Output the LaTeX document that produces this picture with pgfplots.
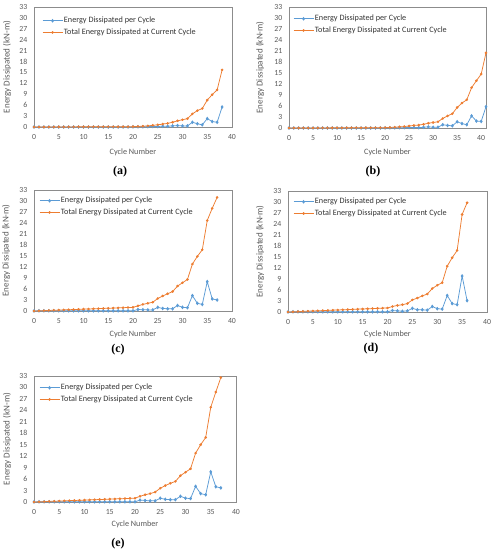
\documentclass[border=0pt]{standalone}
\usepackage{pgfplots}
\usepackage{pgfplotstable}
\pgfplotsset{compat=1.18}
\usepackage{fontspec}
\setmainfont{Carlito}
\newfontfamily\panelfont{Liberation Serif}
\definecolor{eblue}{HTML}{5B9BD5}
\definecolor{eorange}{HTML}{ED7D31}
\definecolor{lbl}{HTML}{595959}
\definecolor{frm}{HTML}{8C8C8C}

\pgfplotstableread{
x b o
0 0.00 0.000
1 0.00 0.004
2 0.00 0.008
3 0.00 0.012
4 0.00 0.016
5 0.00 0.020
6 0.00 0.024
7 0.00 0.028
8 0.00 0.032
9 0.00 0.036
10 0.00 0.040
11 0.00 0.044
12 0.00 0.048
13 0.00 0.052
14 0.00 0.056
15 0.00 0.060
16 0.00 0.064
17 0.00 0.068
18 0.00 0.072
19 0.01 0.080
20 0.03 0.10
21 0.05 0.15
22 0.05 0.20
23 0.10 0.30
24 0.15 0.45
25 0.15 0.60
26 0.20 0.80
27 0.20 1.00
28 0.30 1.30
29 0.40 1.70
30 0.30 2.00
31 0.30 2.30
32 1.30 3.60
33 0.90 4.50
34 0.60 5.10
35 2.30 7.40
36 1.50 8.90
37 1.30 10.20
38 5.50 15.70
}\ta

\pgfplotstableread{
x b o
0 0.00 0.000
1 0.00 0.004
2 0.00 0.008
3 0.00 0.012
4 0.00 0.016
5 0.00 0.020
6 0.00 0.024
7 0.00 0.028
8 0.00 0.032
9 0.00 0.036
10 0.00 0.040
11 0.00 0.044
12 0.00 0.048
13 0.00 0.052
14 0.00 0.056
15 0.00 0.060
16 0.00 0.064
17 0.00 0.068
18 0.00 0.072
19 0.01 0.080
20 0.03 0.10
21 0.05 0.15
22 0.05 0.20
23 0.10 0.30
24 0.10 0.40
25 0.15 0.55
26 0.15 0.70
27 0.10 0.80
28 0.20 1.00
29 0.30 1.30
30 0.20 1.50
31 0.20 1.70
32 0.90 2.60
33 0.70 3.30
34 0.60 3.90
35 1.70 5.60
36 1.20 6.80
37 0.90 7.70
38 3.30 11.00
39 1.90 12.90
40 1.80 14.70
41 5.80 20.50
}\tb

\pgfplotstableread{
x b o
0 0.02 0.00
1 0.05 0.05
2 0.05 0.10
3 0.05 0.15
4 0.05 0.20
5 0.05 0.25
6 0.05 0.30
7 0.05 0.35
8 0.05 0.40
9 0.05 0.45
10 0.05 0.50
11 0.05 0.55
12 0.05 0.60
13 0.05 0.65
14 0.05 0.70
15 0.05 0.75
16 0.05 0.80
17 0.05 0.85
18 0.05 0.90
19 0.05 0.95
20 0.05 1.00
21 0.40 1.40
22 0.35 1.80
23 0.30 2.10
24 0.30 2.40
25 1.00 3.40
26 0.70 4.10
27 0.60 4.70
28 0.60 5.30
29 1.50 6.80
30 1.00 7.70
31 0.90 8.60
32 4.20 12.80
33 2.10 14.90
34 1.80 16.70
35 8.00 24.70
36 3.30 28.00
37 3.00 31.00
}\tc

\pgfplotstableread{
x b o
0 0.02 0.000
1 0.05 0.055
2 0.05 0.110
3 0.05 0.165
4 0.05 0.220
5 0.05 0.275
6 0.05 0.330
7 0.05 0.385
8 0.05 0.440
9 0.05 0.495
10 0.05 0.550
11 0.05 0.605
12 0.05 0.660
13 0.05 0.715
14 0.05 0.770
15 0.05 0.825
16 0.05 0.880
17 0.05 0.935
18 0.05 0.990
19 0.05 1.045
20 0.05 1.100
21 0.40 1.50
22 0.30 1.80
23 0.20 2.00
24 0.30 2.30
25 1.00 3.30
26 0.60 3.80
27 0.60 4.40
28 0.50 4.90
29 1.50 6.40
30 0.90 7.30
31 0.80 8.00
32 4.50 12.50
33 2.30 14.80
34 2.00 16.80
35 9.80 26.60
36 3.10 29.80
}\td

\pgfplotstableread{
x b o
0 0.02 0.00
1 0.05 0.05
2 0.05 0.10
3 0.05 0.15
4 0.05 0.20
5 0.05 0.25
6 0.05 0.30
7 0.05 0.35
8 0.05 0.40
9 0.05 0.45
10 0.05 0.50
11 0.05 0.55
12 0.05 0.60
13 0.05 0.65
14 0.05 0.70
15 0.05 0.75
16 0.05 0.80
17 0.05 0.85
18 0.05 0.90
19 0.05 0.95
20 0.05 1.00
21 0.50 1.50
22 0.40 1.90
23 0.30 2.20
24 0.30 2.60
25 1.00 3.60
26 0.70 4.30
27 0.60 4.90
28 0.60 5.40
29 1.50 6.90
30 1.00 7.80
31 0.90 8.70
32 4.10 12.80
33 2.20 15.00
34 1.90 16.90
35 7.90 24.80
36 4.00 28.80
37 3.70 32.60
}\te

\pgfplotsset{
  panel/.style={
    scale only axis,
    xmin=0, xmax=40, ymin=0, ymax=33,
    xtick={0,5,...,40}, ytick={0,3,...,33},
    axis line style={draw=frm, line width=0.7pt},
    major tick length=0pt,
    tick style={draw=none},
    /pgf/number format/assume math mode=true,
    ticklabel style={font=\fontsize{7.8}{9}\selectfont, text=lbl},
    xticklabel style={anchor=center, yshift=-10pt},
    yticklabel style={anchor=east, inner sep=0pt, xshift=-6.5pt},
    xlabel={Cycle Number},
    ylabel={Energy Dissipated (kN-m)},
    xlabel style={font=\fontsize{8.2}{9}\selectfont, text=lbl, anchor=center},
    ylabel style={font=\fontsize{9}{10}\selectfont, text=lbl, anchor=center},
    legend cell align=left,
    legend image code/.code={\draw[mark repeat=2,mark phase=2,##1] plot coordinates {(0pt,0pt) (10pt,0pt) (20pt,0pt)};},
    legend style={draw=none, fill=none, anchor=north west,
      font=\fontsize{8.2}{9.5}\selectfont, text=black!80, inner sep=0pt,
      row sep=2.5pt, nodes={inner sep=1pt, anchor=west}},
    clip=false,
  },
  eb/.style={color=eblue, line width=0.75pt, mark=diamond*, mark size=1.3pt, mark options={solid}},
  eo/.style={color=eorange, line width=0.75pt, mark=*, mark size=0.9pt, mark options={solid}},
}

\begin{document}
\begin{tikzpicture}
\useasboundingbox (0pt,0pt) rectangle (493pt,550pt);

% (a)
\begin{axis}[panel, at={(34pt,423pt)}, anchor=south west, width=198pt, height=120pt,
  xlabel style={at={(axis description cs:0.5,0)}, yshift=-25pt},
  ylabel style={at={(axis description cs:-0.1364,0.5)}},
  legend style={at={(axis description cs:0,1)}, xshift=8pt, yshift=-9pt}]
\addplot[eb] table[x=x,y=b]{\ta};
\addplot[eo] table[x=x,y=o]{\ta};
\legend{Energy Dissipated per Cycle, Total Energy Dissipated at Current Cycle}
\end{axis}

% (b)
\begin{axis}[panel, at={(289pt,422pt)}, anchor=south west, width=197pt, height=121pt, xmax=41,
  xlabel style={at={(axis description cs:0.5,0)}, yshift=-24pt},
  ylabel style={at={(axis description cs:-0.147,0.5)}},
  legend style={at={(axis description cs:0,1)}, xshift=4pt, yshift=-7pt}]
\addplot[eb] table[x=x,y=b]{\tb};
\addplot[eo] table[x=x,y=o]{\tb};
\legend{Energy Dissipated per Cycle, Total Energy Dissipated at Current Cycle}
\end{axis}

% (c)
\begin{axis}[panel, at={(34pt,239pt)}, anchor=south west, width=198pt, height=121pt,
  xlabel style={at={(axis description cs:0.5,0)}, yshift=-23pt},
  ylabel style={at={(axis description cs:-0.1414,0.5)}},
  legend style={at={(axis description cs:0,1)}, xshift=5pt, yshift=-6pt}]
\addplot[eb] table[x=x,y=b]{\tc};
\addplot[eo] table[x=x,y=o]{\tc};
\legend{Energy Dissipated per Cycle, Total Energy Dissipated at Current Cycle}
\end{axis}

% (d)
\begin{axis}[panel, at={(288pt,238pt)}, anchor=south west, width=199pt, height=121pt,
  xlabel style={at={(axis description cs:0.5,0)}, yshift=-22pt},
  ylabel style={at={(axis description cs:-0.1407,0.5)}},
  legend style={at={(axis description cs:0,1)}, xshift=5pt, yshift=-6pt}]
\addplot[eb] table[x=x,y=b]{\td};
\addplot[eo] table[x=x,y=o]{\td};
\legend{Energy Dissipated per Cycle, Total Energy Dissipated at Current Cycle}
\end{axis}

% (e)
\begin{axis}[panel, at={(34pt,48pt)}, anchor=south west, width=202pt, height=126pt,
  xlabel style={at={(axis description cs:0.5,0)}, yshift=-22pt},
  ylabel style={at={(axis description cs:-0.1337,0.5)}},
  legend style={at={(axis description cs:0,1)}, xshift=5pt, yshift=-7pt}]
\addplot[eb] table[x=x,y=b]{\te};
\addplot[eo] table[x=x,y=o]{\te};
\legend{Energy Dissipated per Cycle, Total Energy Dissipated at Current Cycle}
\end{axis}

\node[font=\panelfont\bfseries\fontsize{12}{12}\selectfont] at (120pt,378pt) {(a)};
\node[font=\panelfont\bfseries\fontsize{12}{12}\selectfont] at (373pt,378pt) {(b)};
\node[font=\panelfont\bfseries\fontsize{12}{12}\selectfont] at (118pt,200pt) {(c)};
\node[font=\panelfont\bfseries\fontsize{12}{12}\selectfont] at (371pt,201pt) {(d)};
\node[font=\panelfont\bfseries\fontsize{12}{12}\selectfont] at (118pt,6pt) {(e)};
\end{tikzpicture}
\end{document}
